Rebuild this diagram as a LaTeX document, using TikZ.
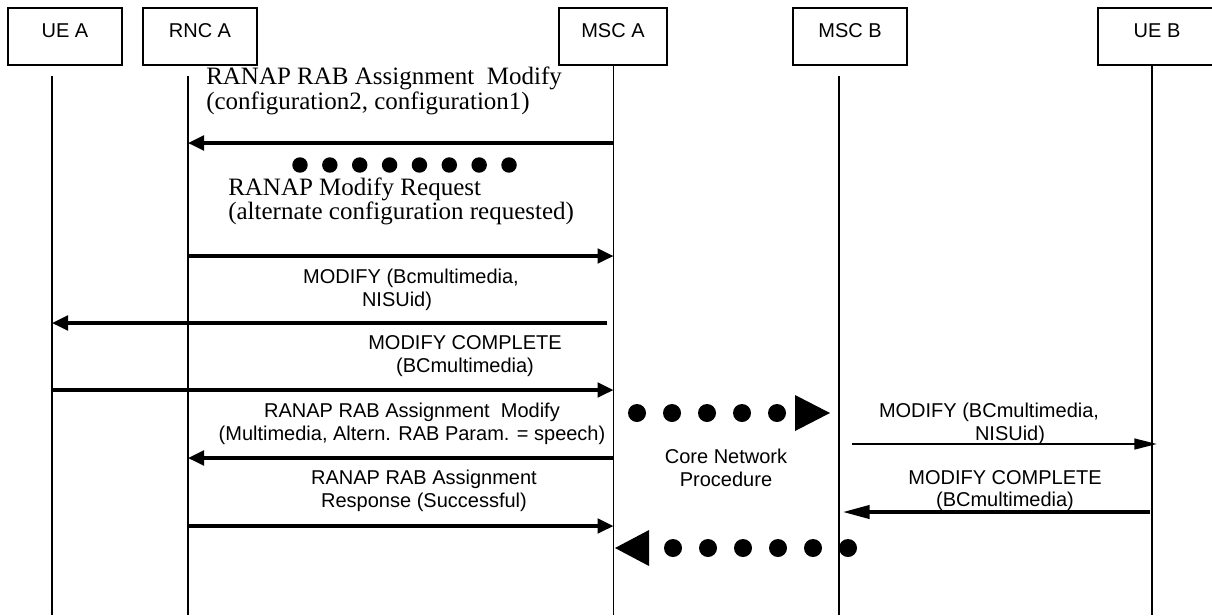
\documentclass[tikz,border=0pt]{standalone}
\usepackage{fontspec}
\setmainfont{Liberation Sans}
\newfontfamily\ranapfont{Liberation Serif}
\usetikzlibrary{arrows.meta}

\begin{document}
\begin{tikzpicture}[x=0.75pt,y=-0.75pt,
    entity/.style={draw,line width=1.1pt,minimum width=85.5pt,minimum height=42.75pt,
      inner sep=0pt,font=\fontsize{15}{17}\selectfont,text height=8pt,text depth=7pt},
    lifeline/.style={line width=1.1pt},
    msg/.style={line width=2.4pt,-{Triangle[length=12pt,width=11pt]}},
    txt/.style={font=\fontsize{15}{17}\selectfont,align=center,inner sep=0pt},
    rtxt/.style={font=\ranapfont\fontsize{18.75}{17}\selectfont,align=left,inner sep=0pt,anchor=west}]
  \useasboundingbox (0,0) rectangle (1212,615);

  % entities
  \node[entity] (uea) at (65,36.5) {UE A};
  \node[entity] (rnca) at (200,36.5) {RNC A};
  \node[entity,minimum width=81pt] (msca) at (613,36.5) {MSC A};
  \node[entity] (mscb) at (850,36.5) {MSC B};
  \node[entity,minimum width=88.5pt] (ueb) at (1157,36.5) {UE B};

  % lifelines
  \coordinate (lUa) at (52,76);
  \coordinate (lRa) at (188,76);
  \coordinate (lMa) at (613.5,65);
  \coordinate (lMb) at (839,76);
  \coordinate (lUb) at (1152,65);
  \foreach \l in {lUa,lRa,lMa,lMb,lUb}
    \draw[lifeline] (\l) -- (\l |- 0,615);

  % RNC A - MSC A
  \node[rtxt] (t1) at (206,91) {RANAP RAB Assignment~ Modify\\(configuration2, configuration1)};
  \draw[msg] (lMa |- 0,143) -- (lRa |- 0,143);
  \foreach \i in {0,...,7}
    \fill (300+29.86*\i,165) circle (5.8pt);
  \node[rtxt] (t2) at (228,201.5) {RANAP Modify Request\\(alternate configuration requested)};
  \draw[msg] (lRa |- 0,256) -- (lMa |- 0,256);

  % UE A - MSC A
  \node[txt] (t3) at (411,290) {MODIFY (Bcmultimedia,\\NISUid)\hspace*{21pt}};
  \coordinate (m3) at (607,323);
  \draw[msg] (m3) -- (lUa |- m3);
  \node[txt] (t4) at (465,356) {MODIFY COMPLETE\\(BCmultimedia)};
  \draw[msg] (lUa |- 0,390) -- (lMa |- 0,390);

  \node[txt] (t5) at (412,423.5) {RANAP RAB Assignment~ Modify\\(Multimedia, Altern. RAB Param. = speech)};
  \draw[msg] (lMa |- 0,458) -- (lRa |- 0,458);
  \node[txt] (t6) at (424,491) {RANAP RAB Assignment\\Response (Successful)};
  \draw[msg] (lRa |- 0,526) -- (lMa |- 0,526);

  % core network
  \foreach \i in {0,...,4}
    \fill (637+35*\i,413) circle (6.75pt);
  \fill (795,395) -- (830,413) -- (795,431) -- cycle;
  \node[txt] (t7) at (726,468) {Core Network\\Procedure};
  \fill (615,548) -- (649,530) -- (649,566) -- cycle;
  \foreach \i in {0,...,5}
    \fill (673+35*\i,548) circle (6.75pt);

  % MSC B - UE B
  \node[txt] (t8) at (989,423.5) {MODIFY (BCmultimedia,\\\hspace*{31.5pt}NISUid)};
  \coordinate (m8a) at (852,444);
  \coordinate (m8b) at (1157,444);
  \draw[line width=1.8pt,-{Triangle[length=17pt,width=8pt]}] (m8a) -- (m8b);
  \node[txt] (t9) at (1005,490.5) {MODIFY COMPLETE\\(BCmultimedia)};
  \coordinate (m9a) at (1150,512);
  \coordinate (m9b) at (843,512);
  \draw[line width=2.4pt,-{Triangle[length=20pt,width=10pt]}] (m9a) -- (m9b);
\end{tikzpicture}
\end{document}
